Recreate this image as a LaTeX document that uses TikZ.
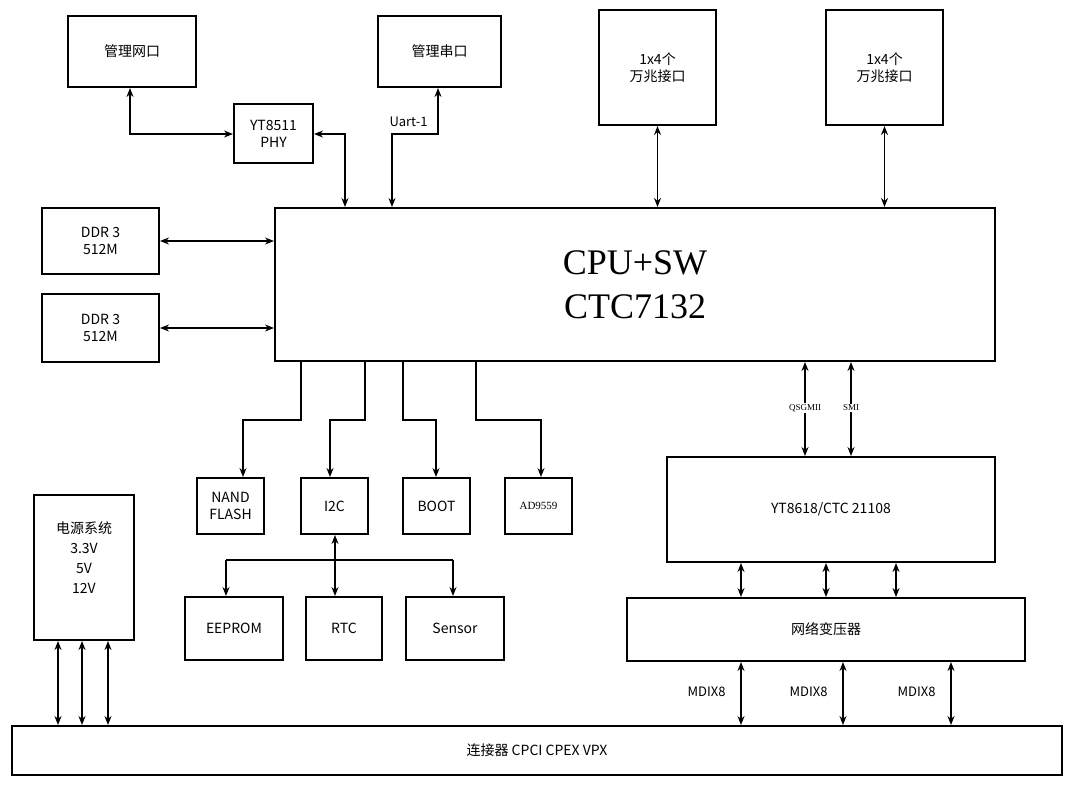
\documentclass[tikz,border=0pt]{standalone}
\usepackage{fontspec}
\setmainfont{Noto Sans CJK SC}
\newfontfamily\serifx{Liberation Serif}
\usetikzlibrary{arrows.meta}
\begin{document}
\begin{tikzpicture}[x=1pt,y=-1pt,
 bx/.style={draw,line width=2pt,inner sep=0pt,align=center,font=\fontsize{14}{17}\selectfont},
 ar/.style={line width=1.4pt,-{Stealth[length=9pt,width=7pt]}},
 da/.style={line width=1.4pt,{Stealth[length=9pt,width=7pt]}-{Stealth[length=9pt,width=7pt]}},
 ln/.style={line width=1.4pt},
 lb/.style={font=\fontsize{13}{15}\selectfont}]
\useasboundingbox (0,0) rectangle (1073,809);
\newcommand{\bxat}[4]{\node[bx,minimum width={#3-#1},minimum height={#4-#2}] at ({(#1+#3)/2},{(#2+#4)/2})}
\bxat{68}{16}{196}{87} (mgn) {管理网口};
\bxat{378}{16}{501}{87} (mgs) {管理串口};
\bxat{234}{104}{313}{163} (phy) {YT8511\\PHY};
\bxat{599}{10}{716}{125} (p1) {1x4个\\万兆接口};
\bxat{826}{10}{943}{125} (p2) {1x4个\\万兆接口};
\bxat{275}{208}{995}{361} (cpu) {};
\node[font=\serifx\fontsize{36}{44}\selectfont,align=center] at (635,285) {CPU+SW\\CTC7132};
\bxat{42}{208}{159}{274} (d1) {DDR 3\\512M};
\bxat{42}{294}{159}{362} (d2) {DDR 3\\512M};
\bxat{197}{478}{264}{534} (nand) {NAND\\FLASH};
\bxat{301}{478}{368}{534} (i2c) {I2C};
\bxat{403}{478}{470}{534} (boot) {BOOT};
\bxat{505}{478}{572}{534} (ad) {\serifx\fontsize{11}{13}\selectfont AD9559};
\bxat{34}{495}{134}{640} (pwr) {};
\node[font=\fontsize{14}{20}\selectfont,align=center,anchor=north] at (84,518) {电源系统\\3.3V\\5V\\12V};
\bxat{185}{597}{283}{660} (ee) {EEPROM};
\bxat{306}{597}{382}{660} (rtc) {RTC};
\bxat{406}{597}{504}{660} (sen) {Sensor};
\bxat{667}{457}{995}{562} (yt) {YT8618/CTC 21108};
\bxat{627}{598}{1025}{661} (tr) {网络变压器};
\bxat{12}{726}{1062}{775} (con) {连接器 CPCI CPEX VPX};
% top connections
\draw[da] (mgn.south -| 130,0) |- (phy.west |- 0,134);
\draw[da] (phy.east |- 0,134) -| (cpu.north -| 345,0);
\draw[da] (mgs.south -| 438,0) |- (392,134) -- (cpu.north -| 392,0);
\node[lb,anchor=west] at (386,122) {Uart-1};
\draw[da] (p1.south) -- (cpu.north -| p1.south);
\draw[da] (p2.south) -- (cpu.north -| p2.south);
\draw[da] (d1.east) -- (cpu.west |- d1.east);
\draw[da] (d2.east) -- (cpu.west |- d2.east);
% down
\draw[ar] (cpu.south -| 301,0) |- (243,420) -- (nand.north -| 243,0);
\draw[ar] (cpu.south -| 365,0) |- (330,420) -- (i2c.north -| 330,0);
\draw[ar] (cpu.south -| 403,0) |- (436,420) -- (boot.north -| 436,0);
\draw[ar] (cpu.south -| 476,0) |- (541,420) -- (ad.north -| 541,0);
\draw[da] (cpu.south -| 805,0) -- (yt.north -| 805,0);
\draw[da] (cpu.south -| 851,0) -- (yt.north -| 851,0);
\node[fill=white,inner sep=1pt,font=\serifx\fontsize{9}{11}\selectfont] at (805,408) {QSGMII};
\node[fill=white,inner sep=1pt,font=\serifx\fontsize{9}{11}\selectfont] at (851,408) {SMI};
% i2c tree
\draw[da] (i2c.south -| 335,0) -- (rtc.north -| 335,0);
\coordinate (bl) at (226,560); \coordinate (br) at (453,560);
\draw[ln] (bl) -- (br);
\draw[ar] (bl) -- (ee.north -| bl);
\draw[ar] (br) -- (sen.north -| br);
% yt to tr
\foreach \x in {741,826,896} \draw[da] (yt.south -| \x,0) -- (tr.north -| \x,0);
\foreach \x in {741,843,951} {\draw[da] (tr.south -| \x,0) -- (con.north -| \x,0);
 \node[lb,anchor=east] at (\x-12,692) {MDIX8};}
\foreach \x in {58,82,108} \draw[da] (pwr.south -| \x,0) -- (con.north -| \x,0);
\end{tikzpicture}
\end{document}
